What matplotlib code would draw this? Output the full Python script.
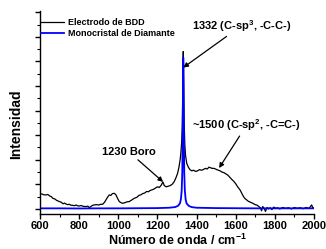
import matplotlib
matplotlib.use("Agg")
import matplotlib.pyplot as plt
from matplotlib.ticker import MultipleLocator

plt.rcParams['font.family'] = ['Liberation Sans', 'DejaVu Sans']
plt.rcParams['mathtext.fontset'] = 'custom'
plt.rcParams['mathtext.rm'] = 'Liberation Sans:bold'
plt.rcParams['mathtext.it'] = 'Liberation Sans:bold'
plt.rcParams['mathtext.bf'] = 'Liberation Sans:bold'

bdd_x = [600, 610, 620, 631, 640, 650, 658, 665, 675, 685, 699, 708, 718, 725, 733, 742, 750, 758,
         767, 775, 785, 793, 801, 810, 820, 835, 845, 852, 860, 870, 877, 890, 900, 910, 920, 930,
         937, 945, 954, 962, 970, 980, 988, 995, 1005, 1015, 1023, 1035, 1045, 1056, 1066, 1075,
         1082, 1095, 1105, 1115, 1125, 1135, 1145, 1155, 1162, 1172, 1180, 1190, 1200, 1210, 1220,
         1228, 1235, 1245, 1255, 1265, 1275, 1285, 1295, 1303, 1310, 1316, 1320, 1324, 1327, 1329,
         1330.5, 1332, 1333.5, 1335, 1337, 1340, 1344, 1350, 1358, 1366, 1375, 1385, 1395, 1405,
         1415, 1425, 1434, 1445, 1455, 1463, 1472, 1480, 1490, 1503, 1512, 1520, 1530, 1540, 1550,
         1560, 1571, 1580, 1590, 1600, 1610, 1622, 1632, 1640, 1647, 1655, 1665, 1675, 1682, 1692,
         1700, 1710, 1718, 1726, 1732, 1738, 1745, 1752, 1760, 1768, 1775, 1785, 1795, 1805, 1815,
         1825, 1840, 1855, 1870, 1885, 1900, 1915, 1930, 1945, 1960, 1975, 1988, 1995, 2000]
bdd_y = [1.20, 1.22, 1.15, 1.14, 1.18, 1.05, 1.00, 0.87, 0.82, 0.70, 0.60, 0.55, 0.42, 0.48, 0.40,
         0.35, 0.38, 0.30, 0.30, 0.26, 0.32, 0.25, 0.24, 0.28, 0.22, 0.19, 0.23, 0.10, 0.20, 0.30,
         0.33, 0.35, 0.32, 0.38, 0.38, 0.55, 0.73, 0.95, 1.14, 1.10, 1.25, 1.27, 1.15, 0.90, 0.60,
         0.50, 0.46, 0.52, 0.58, 0.60, 0.70, 0.80, 0.87, 0.95, 1.10, 1.15, 1.25, 1.30, 1.42, 1.40,
         1.50, 1.55, 1.60, 1.70, 1.80, 1.75, 1.95, 2.20, 1.90, 1.80, 1.85, 1.90, 2.00, 2.20, 2.55,
         2.90, 3.40, 4.00, 4.60, 5.50, 6.80, 8.80, 11.2, 12.8, 11.5, 9.0, 6.8, 5.2, 4.3, 3.7, 3.4,
         3.2, 3.1, 3.15, 3.05, 3.1, 3.2, 3.15, 3.2, 3.3, 3.25, 3.4, 3.35, 3.3, 3.3, 3.2, 3.15, 3.1,
         3.0, 2.95, 2.85, 2.75, 2.55, 2.40, 2.25, 2.05, 1.80, 1.55, 1.25, 1.00, 0.85, 0.75, 0.62,
         0.55, 0.50, 0.42, 0.35, 0.30, 0.20, 0.10, -0.15, 0.20, 0.05, -0.20, 0.12, 0.00, 0.10, -0.05,
         0.15, 0.05, 0.10, 0.00, 0.12, 0.05, 0.10, 0.00, 0.12, 0.05, 0.10, 0.02, 0.12, 0.05, 0.33,
         0.05, 0.10]

dia_x = [600, 700, 800, 900, 1000, 1100, 1200, 1260, 1290, 1305, 1315, 1320, 1324, 1327, 1329,
         1330.5, 1332, 1333.5, 1335, 1337, 1340, 1344, 1349, 1360, 1375, 1400, 1500, 1600, 1700,
         1800, 1900, 2000]
dia_y = [0.05, 0.05, 0.04, 0.05, 0.05, 0.06, 0.07, 0.10, 0.15, 0.25, 0.45, 0.80, 1.5, 3.0, 6.0,
         10.0, 12.3, 10.0, 6.0, 3.0, 1.5, 0.8, 0.45, 0.25, 0.15, 0.10, 0.07, 0.06, 0.05, 0.05,
         0.05, 0.05]

labels = ["Electrodo de BDD", "Monocristal de Diamante"]
xticks = [600, 800, 1000, 1200, 1400, 1600, 1800, 2000]

fig = plt.figure(figsize=(3.26, 2.49), dpi=100)
ax = fig.add_axes([40/326, 1-214/249, 274/326, 203/249])

ax.plot(bdd_x, bdd_y, color='black', lw=0.9, label=labels[0])
ax.plot(dia_x, dia_y, color='#0000ff', lw=1.3, label=labels[1])

ax.set_xlim(600, 2000)
ax.set_ylim(-0.41, 16.1)
ax.set_xticks(xticks)
ax.xaxis.set_minor_locator(MultipleLocator(100))
ax.yaxis.set_major_locator(MultipleLocator(2))
ax.yaxis.set_minor_locator(MultipleLocator(1))
ax.set_yticklabels([])
for s in ['top', 'right']:
    ax.spines[s].set_visible(False)
for s in ['left', 'bottom']:
    ax.spines[s].set_linewidth(1.0)
ax.tick_params(axis='both', which='major', direction='out', length=3.5, width=1.0,
               labelsize=8, pad=1.5)
ax.tick_params(axis='both', which='minor', direction='out', length=2, width=0.8)
for lab in ax.get_xticklabels():
    lab.set_fontweight('bold')

ax.set_xlabel("Número de onda / cm$^{-1}$", fontsize=9, fontweight='bold')
ax.xaxis.set_label_coords(0.5, -0.092)
ax.set_ylabel("Intensidad", fontsize=10, fontweight='bold')
ax.yaxis.set_label_coords(-0.062, 0.443)

leg = ax.legend(loc='upper left', bbox_to_anchor=(41/326, 1-18/249), bbox_transform=fig.transFigure,
                frameon=False, handlelength=2.6, handletextpad=0.35,
                labelspacing=0.25, borderpad=0, borderaxespad=0,
                prop={'size': 6.5, 'weight': 'bold'})

arrow = dict(arrowstyle='-|>', color='black', lw=0.9, mutation_scale=7, shrinkA=0, shrinkB=0)
ax.annotate("1332 (C-sp$^3$, -C-C-)", xy=(1332, 11.5), xytext=(1629, 14.9),
            fontsize=8, fontweight='bold', ha='center', va='center', arrowprops=arrow)
ax.annotate("~1500 (C-sp$^2$, -C=C-)", xy=(1515, 3.33), xytext=(1655, 6.8),
            fontsize=8, fontweight='bold', ha='center', va='center', arrowprops=arrow)
ax.annotate("1230 Boro", xy=(1229, 2.2), xytext=(1055, 4.63),
            fontsize=8, fontweight='bold', ha='center', va='center', arrowprops=arrow)

fig.savefig("out.png", dpi=100)
